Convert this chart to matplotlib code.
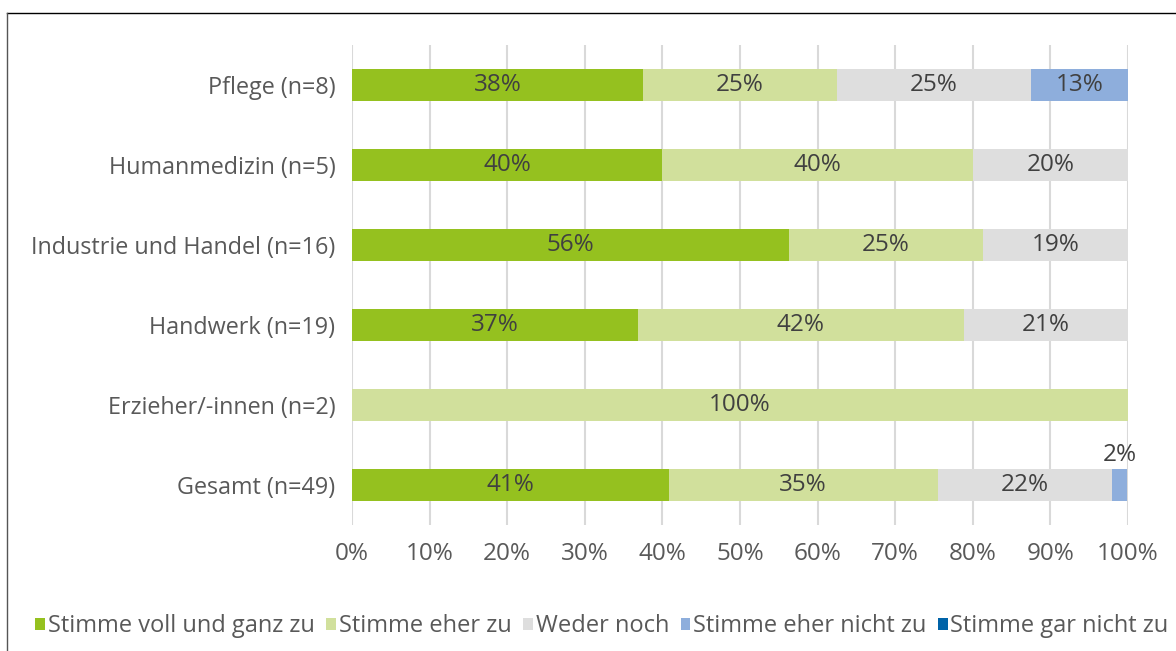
import matplotlib.pyplot as plt
from matplotlib.lines import Line2D
import numpy as np

categories = ["Pflege (n=8)", "Humanmedizin (n=5)", "Industrie und Handel (n=16)",
              "Handwerk (n=19)", "Erzieher/-innen (n=2)", "Gesamt (n=49)"]
series = ["Stimme voll und ganz zu", "Stimme eher zu", "Weder noch",
          "Stimme eher nicht zu", "Stimme gar nicht zu"]
voll = [37.5, 40.0, 56.25, 36.8, 0.0, 40.8]
eher = [25.0, 40.0, 25.0, 42.1, 100.0, 34.7]
weder = [25.0, 20.0, 18.75, 21.1, 0.0, 22.4]
eher_nicht = [12.5, 0.0, 0.0, 0.0, 0.0, 2.0]
gar_nicht = [0.0, 0.0, 0.0, 0.0, 0.0, 0.0]

colors = ["#95C11F", "#D1E09C", "#DEDEDE", "#8EAEDC", "#0063A8"]
txt = "#404040"

plt.rcParams["font.family"] = ["Open Sans", "DejaVu Sans"]


def pct(v):
    # Excel style rounding (half up)
    return f"{int(np.floor(v + 0.5))}%"


fig = plt.figure(figsize=(11.76, 6.51), dpi=100)
ax = fig.add_axes([352 / 1176, 1 - 525 / 651, 776 / 1176, 480 / 651])

data = np.array([voll, eher, weder, eher_nicht, gar_nicht])
y = np.arange(len(categories))
left = np.zeros(len(categories))
for i, (name, vals) in enumerate(zip(series, data)):
    ax.barh(y, vals, left=left, height=0.39, color=colors[i], label=name, zorder=2)
    for j, v in enumerate(vals):
        if v <= 0:
            continue
        ypos = j - 0.37 if v < 5 else j
        ax.text(left[j] + v / 2, ypos, pct(v), ha="center", va="center",
                fontsize=17.5, color=txt)
    left += vals

ax.set_xlim(0, 100)
ax.set_ylim(len(categories) - 0.5, -0.5)
ax.set_yticks(y)
ax.set_yticklabels(categories, fontsize=16.8, color="#595959")
ax.set_xticks(np.arange(0, 101, 10))
ax.set_xticklabels([f"{t}%" for t in range(0, 101, 10)], fontsize=17.5, color="#595959")
ax.tick_params(length=0, pad=12)
ax.tick_params(axis="x", pad=12)
ax.grid(axis="x", color="#D9D9D9", linewidth=1.5, zorder=0)
ax.set_axisbelow(True)
for s in ax.spines.values():
    s.set_visible(False)

leg = fig.legend(loc="center left", bbox_to_anchor=(26 / 1176, 1 - 626 / 651), ncol=5,
                 frameon=False, fontsize=17, handlelength=0.4, handleheight=0.4,
                 handletextpad=0.12, columnspacing=0.5, borderaxespad=0)
for t in leg.get_texts():
    t.set_color("#595959")

fig.add_artist(Line2D([7 / 1176, 1], [1 - 13 / 651, 1 - 13 / 651], color="black", linewidth=1))
fig.add_artist(Line2D([7 / 1176, 7 / 1176], [0, 1 - 13 / 651], color="#555555", linewidth=1))

fig.savefig("out.png", dpi=100)
